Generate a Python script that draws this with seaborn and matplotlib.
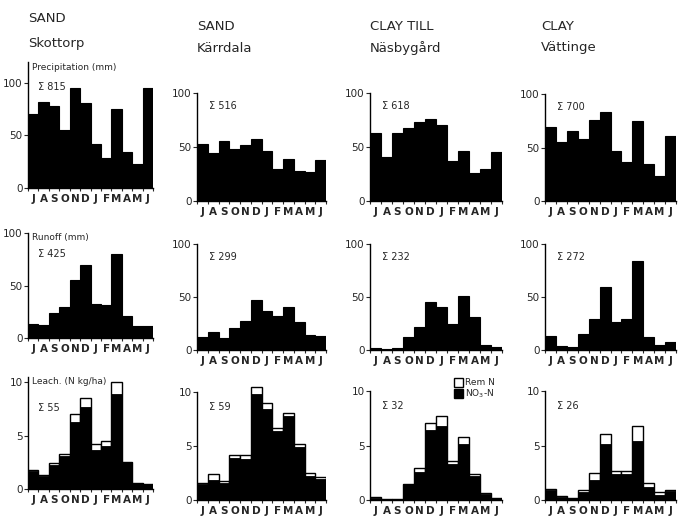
import matplotlib
matplotlib.use("Agg")
import matplotlib.pyplot as plt
from matplotlib.patches import Patch
import seaborn as sns
import pandas as pd

sns.set_theme(style="ticks")
plt.rcParams['font.family'] = ['DejaVu Sans']

months = ["Jul", "Aug", "Sep", "Oct", "Nov", "Dec", "Jan", "Feb", "Mar", "Apr", "May", "Jun"]
month_letters = ["J", "A", "S", "O", "N", "D", "J", "F", "M", "A", "M", "J"]

soils = ["SAND", "SAND", "CLAY TILL", "CLAY"]
sites = ["Skottorp", "Kärrdala", "Näsbygård", "Vättinge"]

precip_skottorp = [70, 82, 78, 55, 95, 81, 42, 29, 75, 34, 23, 95]
precip_karrdala = [53, 44, 56, 48, 52, 57, 46, 30, 39, 28, 27, 38]
precip_nasbygard = [63, 41, 63, 68, 73, 76, 70, 37, 46, 26, 30, 45]
precip_vattinge = [69, 55, 65, 58, 76, 83, 47, 36, 75, 35, 23, 61]

runoff_skottorp = [13, 12, 24, 30, 55, 70, 32, 31, 80, 21, 11, 11]
runoff_karrdala = [12, 17, 11, 21, 27, 47, 37, 32, 41, 26, 14, 13]
runoff_nasbygard = [2, 1, 2, 12, 22, 45, 41, 25, 51, 31, 5, 3]
runoff_vattinge = [13, 4, 3, 15, 29, 59, 26, 29, 84, 12, 5, 8]

leach_total_skottorp = [1.8, 1.3, 2.4, 3.3, 7.0, 8.5, 4.2, 4.5, 10.0, 2.5, 0.6, 0.5]
leach_no3_skottorp = [1.7, 1.2, 2.2, 3.1, 6.3, 7.7, 3.6, 4.0, 8.9, 2.5, 0.6, 0.5]
leach_total_karrdala = [1.6, 2.4, 1.75, 4.2, 4.2, 10.5, 9.0, 6.7, 8.1, 5.2, 2.5, 2.1]
leach_no3_karrdala = [1.5, 1.85, 1.6, 3.9, 3.8, 9.8, 8.4, 6.4, 7.8, 4.95, 2.2, 1.95]
leach_total_nasbygard = [0.25, 0.1, 0.1, 1.5, 2.95, 7.1, 7.7, 3.6, 5.8, 2.4, 0.6, 0.2]
leach_no3_nasbygard = [0.2, 0.1, 0.1, 1.45, 2.6, 6.4, 6.8, 3.3, 5.1, 2.2, 0.55, 0.2]
leach_total_vattinge = [1.05, 0.35, 0.15, 0.9, 2.5, 6.1, 2.65, 2.65, 6.8, 1.6, 0.75, 0.95]
leach_no3_vattinge = [0.9, 0.3, 0.15, 0.75, 1.8, 5.15, 2.4, 2.35, 5.45, 1.2, 0.5, 0.8]

sum_precip = ["815", "516", "618", "700"]
sum_runoff = ["425", "299", "232", "272"]
sum_leach = ["55", "59", "32", "26"]

precip = [precip_skottorp, precip_karrdala, precip_nasbygard, precip_vattinge]
runoff = [runoff_skottorp, runoff_karrdala, runoff_nasbygard, runoff_vattinge]
leach_total = [leach_total_skottorp, leach_total_karrdala, leach_total_nasbygard, leach_total_vattinge]
leach_no3 = [leach_no3_skottorp, leach_no3_karrdala, leach_no3_nasbygard, leach_no3_vattinge]

W, H = 678, 518
fig = plt.figure(figsize=(W / 100, H / 100), dpi=100)

cols_x = [(28, 153), (197, 326), (370, 502), (545, 676)]
rows_geo = [
    [(188, 1.05, 120, 120), (201, 1.08, 100, 100), (201, 1.08, 100, 100), (201, 1.07, 100, 100)],
    [(338, 1.05, 100, 100), (350, 1.06, 100, 100), (350, 1.06, 100, 100), (350, 1.06, 100, 100)],
    [(489, 10.7, 10.5, 10.5), (500, 10.8, 11, 10), (500, 10.9, 11, 10), (500, 10.9, 11, 10)],
]
row_ticks = [[0, 50, 100], [0, 50, 100], [0, 5, 10]]
row_labels = ["Precipitation (mm)", "Runoff (mm)", "Leach. (N kg/ha)"]
sums = [sum_precip, sum_runoff, sum_leach]


def make_ax(c, r):
    x0, x1 = cols_x[c]
    yb, scale, ytop, stop = rows_geo[r][c]
    yt = yb - ytop * scale
    ax = fig.add_axes([x0 / W, 1 - yb / H, (x1 - x0) / W, (yb - yt) / H])
    return ax, ytop, stop


for c in range(4):
    for r in range(3):
        ax, ytop, stop = make_ax(c, r)
        if r < 2:
            vals = precip[c] if r == 0 else runoff[c]
            df = pd.DataFrame({"month": months, "value": vals})
            sns.barplot(data=df, x="month", y="value", order=months, color="black",
                        saturation=1, width=1.0, edgecolor="black", linewidth=0.8, ax=ax)
        else:
            df = pd.DataFrame({"month": months, "total": leach_total[c], "no3": leach_no3[c]})
            sns.barplot(data=df, x="month", y="total", order=months, color="white",
                        saturation=1, width=1.0, edgecolor="black", linewidth=1.0, ax=ax)
            sns.barplot(data=df, x="month", y="no3", order=months, color="black",
                        saturation=1, width=1.0, edgecolor="black", linewidth=0.6, ax=ax)
        ax.set_xlim(-0.5, 11.5)
        ax.set_ylim(0, ytop)
        ax.set_xlabel("")
        ax.set_ylabel("")
        ax.set_yticks(row_ticks[r])
        ax.set_yticklabels([str(t) for t in row_ticks[r]], fontsize=7.5)
        ax.set_xticks(range(12))
        ax.set_xticklabels(month_letters, fontsize=7.5, fontweight="bold")
        ax.set_xticks([i - 0.5 for i in range(13)], minor=True)
        ax.tick_params(axis="x", which="major", length=0, pad=4)
        ax.tick_params(axis="x", which="minor", length=2.5, width=0.8, direction="out")
        ax.tick_params(axis="y", length=3, width=0.8, pad=1)
        for s in ["top", "right"]:
            ax.spines[s].set_visible(False)
        for s in ["left", "bottom"]:
            ax.spines[s].set_linewidth(1.0)
            ax.spines[s].set_color("black")
        ax.spines["left"].set_bounds(0, stop)
        ax.patch.set_alpha(0)

        if c == 0:
            sx, sy = 0.08, 0.8
        else:
            sx, sy = 0.09, 0.88 if r < 2 else 0.78
        if c == 0 and r == 2:
            sy = 0.72
        ax.text(sx, sy, "Σ " + sums[r][c], transform=ax.transAxes, fontsize=7,
                ha="left", va="center")
        if c == 0:
            ax.text(0.03, 1.0 if r > 0 else 0.99, row_labels[r], transform=ax.transAxes,
                    fontsize=6.5, ha="left", va="top")
        if c == 2 and r == 2:
            handles = [Patch(facecolor="white", edgecolor="black", label="Rem N"),
                       Patch(facecolor="black", edgecolor="black", label="NO$_3$-N")]
            ax.legend(handles=handles, loc="upper left", bbox_to_anchor=(0.64, 1.02),
                      frameon=False, fontsize=6.5, handlelength=0.9, handleheight=1.2,
                      handletextpad=0.3, labelspacing=0.05, borderpad=0, borderaxespad=0)

head_pos = [(28, 19, 44), (197, 26, 48), (370, 26, 48), (541, 26, 48)]
for c in range(4):
    x, y1, y2 = head_pos[c]
    fig.text(x / W, 1 - y1 / H, soils[c], fontsize=9.5, ha="left", va="center")
    fig.text(x / W, 1 - y2 / H, sites[c], fontsize=9.5, ha="left", va="center")

fig.savefig("out.png", dpi=100)
